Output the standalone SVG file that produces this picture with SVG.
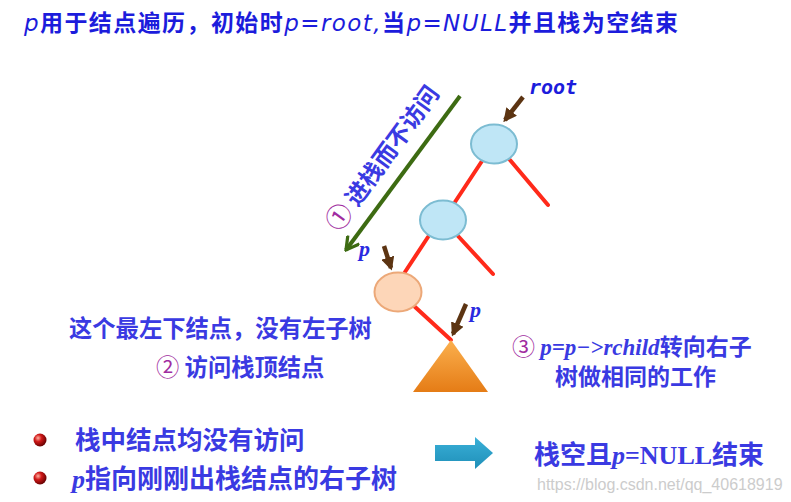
<svg xmlns="http://www.w3.org/2000/svg" width="791" height="502" viewBox="0 0 791 502">
<defs>
<style>
.cjk{font-family:"Noto Sans CJK SC","Noto Sans",sans-serif;font-weight:bold;fill:#3a3ae2}
.title{font-family:"Noto Sans CJK SC","Noto Sans",sans-serif;font-weight:bold;fill:#1c1cdc;font-size:23px}
.isans{font-family:"DejaVu Sans",Verdana,sans-serif;font-style:oblique;font-weight:normal}
.iserif{font-family:"Liberation Serif","Times New Roman",serif;font-style:italic;font-weight:bold}
.serif{font-family:"Liberation Serif","Times New Roman",serif;font-weight:bold}
.num{fill:#a02ca0;font-weight:normal}
.edge{stroke:#ff2a1a;stroke-width:4;stroke-linecap:round;fill:none}
.ptr{stroke:#5c3412;stroke-width:4.5;fill:none}
.blue{fill:#bfe6f6;stroke:#7cbcd2;stroke-width:2}
.peach{fill:#fdd6b8;stroke:#eca878;stroke-width:2}
</style>
<marker id="brown" viewBox="0 0 10 10" refX="8" refY="5" markerWidth="3" markerHeight="3" orient="auto">
<path d="M0,0 L10,5 L0,10 z" fill="#5c3412"/>
</marker>
<marker id="green" viewBox="0 0 10 10" refX="9" refY="5" markerWidth="4" markerHeight="4" orient="auto">
<path d="M1,0.5 L9,5 L1,9.5" fill="none" stroke="#3d6b12" stroke-width="2"/>
</marker>
<linearGradient id="tri" x1="0" y1="0" x2="0" y2="1">
<stop offset="0" stop-color="#fbb04e"/>
<stop offset="1" stop-color="#e57c16"/>
</linearGradient>
<linearGradient id="arr" x1="0" y1="0" x2="0" y2="1">
<stop offset="0" stop-color="#3ab0d8"/>
<stop offset="1" stop-color="#1f8fb8"/>
</linearGradient>
<radialGradient id="ball" cx="0.35" cy="0.35" r="0.7">
<stop offset="0" stop-color="#ffb0a0"/>
<stop offset="0.4" stop-color="#d01818"/>
<stop offset="1" stop-color="#600000"/>
</radialGradient>
</defs>
<rect width="791" height="502" fill="#ffffff"/>

<text class="title" x="24" y="31" textLength="654" lengthAdjust="spacing"><tspan class="isans">p</tspan>用于结点遍历，初始时<tspan class="isans">p=root,</tspan>当<tspan class="isans">p=NULL</tspan>并且栈为空结束</text>

<g id="connectors">
<line class="edge" x1="482" y1="161" x2="455" y2="202"/>
<line class="edge" x1="510" y1="160" x2="548" y2="205"/>
<line class="edge" x1="428" y1="237" x2="405" y2="272"/>
<line class="edge" x1="458" y1="236" x2="493" y2="274"/>
<line class="edge" x1="414" y1="306" x2="451" y2="340"/>
<line class="ptr" x1="523" y1="97" x2="505" y2="120" marker-end="url(#brown)"/>
<line class="ptr" x1="384" y1="246" x2="391" y2="268" marker-end="url(#brown)"/>
<line class="ptr" x1="466" y1="304" x2="453" y2="334" marker-end="url(#brown)"/>
<line x1="460" y1="96" x2="346" y2="250" stroke="#3d6b12" stroke-width="4" marker-end="url(#green)"/>
</g>

<g id="root-node"><ellipse class="blue" cx="494" cy="144" rx="23" ry="19.5"/></g>
<g id="node-2"><ellipse class="blue" cx="443" cy="220" rx="23" ry="19.5"/></g>
<g id="node-leftmost"><ellipse class="peach" cx="398" cy="292" rx="23.5" ry="19.5"/></g>
<g id="right-subtree"><polygon points="451,340 413,392 488,392" fill="url(#tri)"/></g>

<text x="529" y="94" font-family="DejaVu Sans Mono,monospace" font-style="italic" font-weight="bold" font-size="20" fill="#1c1cdc">root</text>
<text class="iserif" x="359" y="256" font-size="22" fill="#2a2ae0">p</text>
<text class="iserif" x="470" y="317" font-size="22" fill="#2a2ae0">p</text>

<text class="cjk" font-size="23.5" transform="translate(339,233) rotate(-54)"><tspan class="num" font-size="26">①</tspan> 进栈而不访问</text>

<text class="cjk" x="69" y="337" font-size="23.3">这个最左下结点，没有左子树</text>
<text class="cjk" x="156" y="376" font-size="23.3"><tspan class="num">②</tspan> 访问栈顶结点</text>

<text class="cjk" x="512" y="355" font-size="23"><tspan class="num">③</tspan> <tspan class="iserif">p=p−&gt;rchild</tspan>转向右子</text>
<text class="cjk" x="555" y="385" font-size="23">树做相同的工作</text>

<circle cx="40" cy="440" r="6.5" fill="url(#ball)"/>
<circle cx="40" cy="478" r="6.5" fill="url(#ball)"/>
<text class="cjk" x="75" y="449" font-size="25.5">栈中结点均没有访问</text>
<text class="cjk" x="72" y="488" font-size="26"><tspan class="iserif">p</tspan>指向刚刚出栈结点的右子树</text>

<path d="M435,445 H475 V437 L493,453 L475,469 V461 H435 Z" fill="url(#arr)"/>

<text class="cjk" x="534" y="464" font-size="26">栈空且<tspan class="iserif">p</tspan><tspan class="serif">=NULL</tspan>结束</text>

<text x="537" y="490" font-family="Liberation Sans,Arial,sans-serif" font-size="16" fill="#cccccc">https://blog.csdn.net/qq_40618919</text>
</svg>
